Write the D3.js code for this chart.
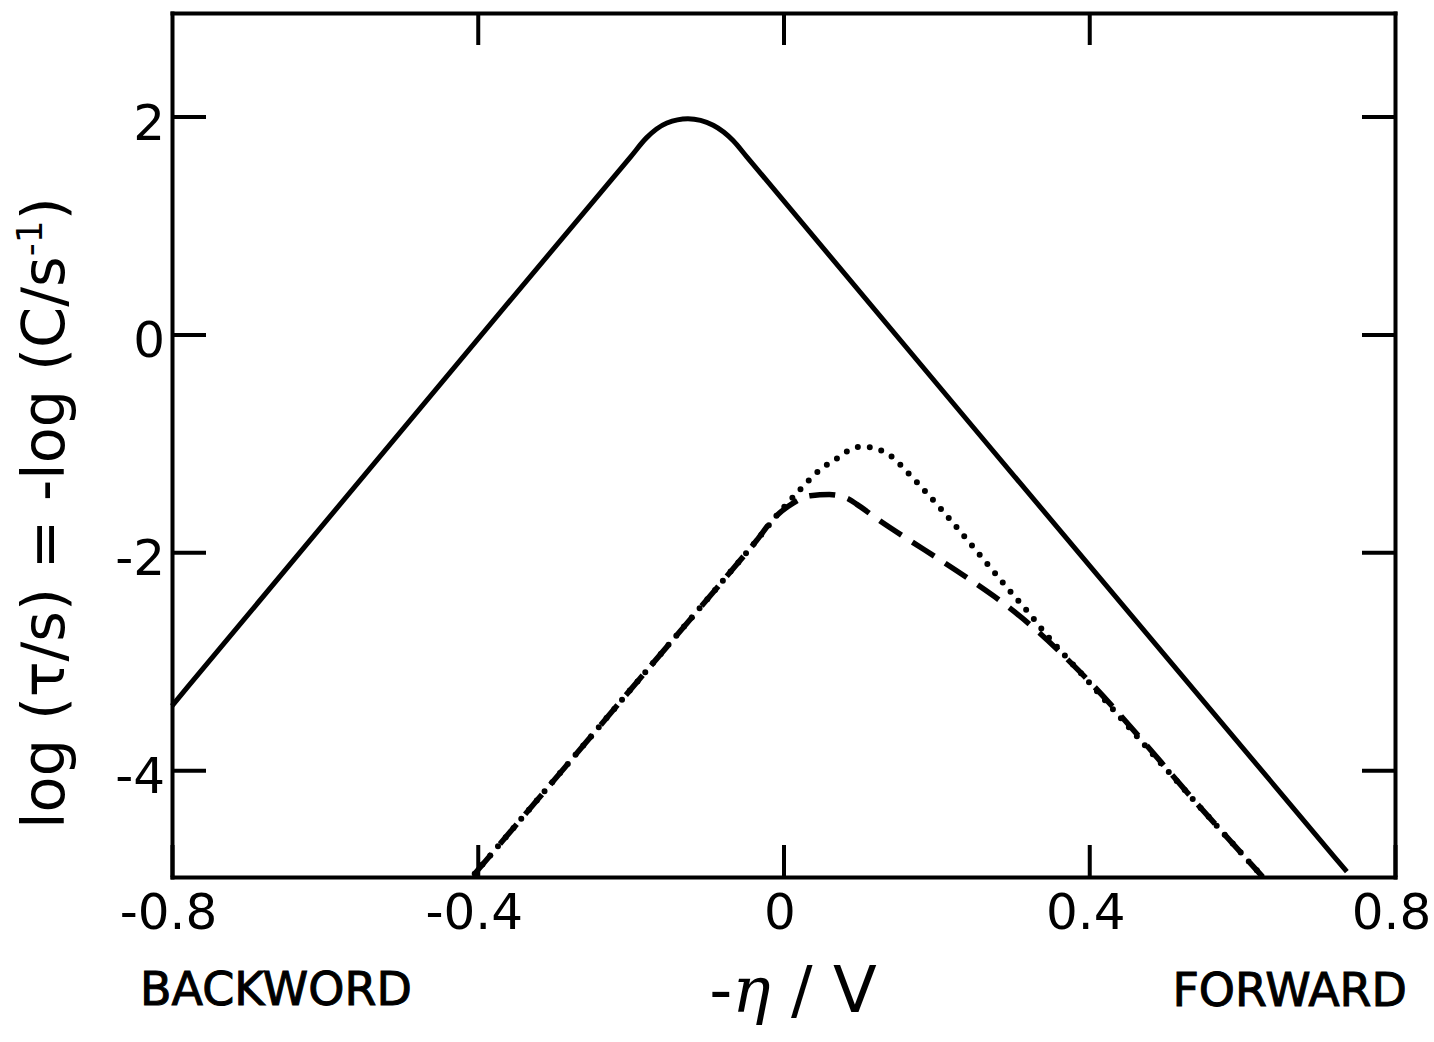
<!DOCTYPE html>
<html>
<head>
<meta charset="utf-8">
<script src="https://cdn.jsdelivr.net/npm/d3@7"></script>
<style>
  body { margin: 0; background: #fff; }
  svg text { font-family: "DejaVu Sans", sans-serif; fill: #000; }
</style>
</head>
<body>
<svg id="chart" width="1434" height="1042"></svg>
<script>
// values: x = -eta / V, y = log(tau / s)
const xTicks = [-0.8, -0.4, 0, 0.4, 0.8];
const yTicks = [-4, -2, 0, 2];

const solidCurve = [
  [-0.80, -3.41], [-0.78, -3.24], [-0.20, 1.63], [-0.179, 1.806], [-0.1525, 1.94],
  [-0.125, 1.98], [-0.092, 1.92], [-0.066, 1.78], [-0.048, 1.63], [0.72, -4.79],
  [0.737, -4.93]
];

const dashedCurve = [
  [-0.404, -4.95], [-0.323, -4.28], [-0.188, -3.16], [-0.066, -2.15], [-0.035, -1.89],
  [-0.014, -1.70], [0.012, -1.55], [0.035, -1.48], [0.060, -1.47], [0.085, -1.51],
  [0.096, -1.56], [0.126, -1.71], [0.165, -1.89], [0.205, -2.07], [0.248, -2.27],
  [0.292, -2.49], [0.335, -2.74], [0.384, -3.07], [0.554, -4.41], [0.627, -4.98]
];

const dottedCurve = [
  [-0.404, -4.95], [-0.323, -4.28], [-0.188, -3.16], [-0.066, -2.15], [-0.035, -1.89],
  [-0.005, -1.63], [0.021, -1.43], [0.048, -1.24], [0.074, -1.12], [0.089, -1.05],
  [0.104, -1.03], [0.122, -1.05], [0.143, -1.13], [0.156, -1.22], [0.175, -1.36],
  [0.207, -1.61], [0.248, -1.95], [0.292, -2.32], [0.325, -2.59], [0.342, -2.74],
  [0.384, -3.07], [0.554, -4.41], [0.627, -4.98]
];

const plot = {left: 172, right: 1395, top: 13, bottom: 877};

const svg = d3.select("#chart");

const x = d3.scaleLinear().domain([-0.8, 0.8]).range([plot.left, plot.right]);
const y = d3.scaleLinear().domain([-4.98, 2.95]).range([plot.bottom, plot.top]);

const fmt = d => d3.format("")(d).replace("\u2212", "-");

function styleAxis(g) {
  g.select(".domain").attr("stroke-width", 4).attr("stroke-linecap", "square");
  g.selectAll(".tick line").attr("stroke-width", 4);
  g.selectAll(".tick text").style("font-size", "50px");
}

// frame with inward ticks on all four sides
svg.append("g")
  .attr("transform", `translate(0,${plot.bottom})`)
  .call(d3.axisBottom(x).tickValues(xTicks).tickSize(-32).tickSizeOuter(0).tickPadding(16).tickFormat(fmt))
  .call(styleAxis)
  .call(g => g.selectAll(".tick text").attr("dx", "-4"));

svg.append("g")
  .attr("transform", `translate(0,${plot.top})`)
  .call(d3.axisTop(x).tickValues(xTicks.slice(1, -1)).tickSize(-32).tickSizeOuter(0).tickFormat(""))
  .call(styleAxis);

svg.append("g")
  .attr("transform", `translate(${plot.left},0)`)
  .call(d3.axisLeft(y).tickValues(yTicks).tickSize(-34).tickSizeOuter(0).tickPadding(7).tickFormat(fmt))
  .call(styleAxis)
  .call(g => g.selectAll(".tick text").attr("dy", "0.45em"));

svg.append("g")
  .attr("transform", `translate(${plot.right},0)`)
  .call(d3.axisRight(y).tickValues(yTicks).tickSize(-33).tickSizeOuter(0).tickFormat(""))
  .call(styleAxis);

// curves
const line = d3.line()
  .x(d => x(d[0]))
  .y(d => y(d[1]))
  .curve(d3.curveMonotoneX);

svg.append("path")
  .datum(solidCurve)
  .attr("d", line)
  .attr("fill", "none")
  .attr("stroke", "#000")
  .attr("stroke-width", 5);

svg.append("path")
  .datum(dashedCurve)
  .attr("d", line)
  .attr("fill", "none")
  .attr("stroke", "#000")
  .attr("stroke-width", 5.5)
  .attr("stroke-dasharray", "26 13");

svg.append("path")
  .datum(dottedCurve)
  .attr("d", line)
  .attr("fill", "none")
  .attr("stroke", "#000")
  .attr("stroke-width", 6)
  .attr("stroke-linecap", "round")
  .attr("stroke-dasharray", "0 12");

// axis titles
svg.append("text")
  .attr("x", 140)
  .attr("y", 1005)
  .style("font-size", "46px")
  .attr("stroke", "#000")
  .attr("stroke-width", 1)
  .text("BACKWORD");

svg.append("text")
  .attr("x", 1407)
  .attr("y", 1006)
  .attr("text-anchor", "end")
  .style("font-size", "46px")
  .attr("stroke", "#000")
  .attr("stroke-width", 1)
  .text("FORWARD");

const xTitle = svg.append("text")
  .attr("x", 793)
  .attr("y", 1012)
  .attr("text-anchor", "middle")
  .style("font-size", "64px");
xTitle.append("tspan").text("-");
xTitle.append("tspan")
  .style("font-family", "'DejaVu Serif', serif")
  .style("font-style", "italic")
  .text("\u03B7");
xTitle.append("tspan").text(" / V");

const yTitle = svg.append("text")
  .attr("transform", "translate(64,513) rotate(-90)")
  .attr("text-anchor", "middle")
  .style("font-size", "59px");
yTitle.append("tspan").text("log (\u03C4/s) = -log (C/s");
yTitle.append("tspan").attr("dy", -22).style("font-size", "36px").text("-1");
yTitle.append("tspan").attr("dy", 22).text(")");
</script>
</body>
</html>
